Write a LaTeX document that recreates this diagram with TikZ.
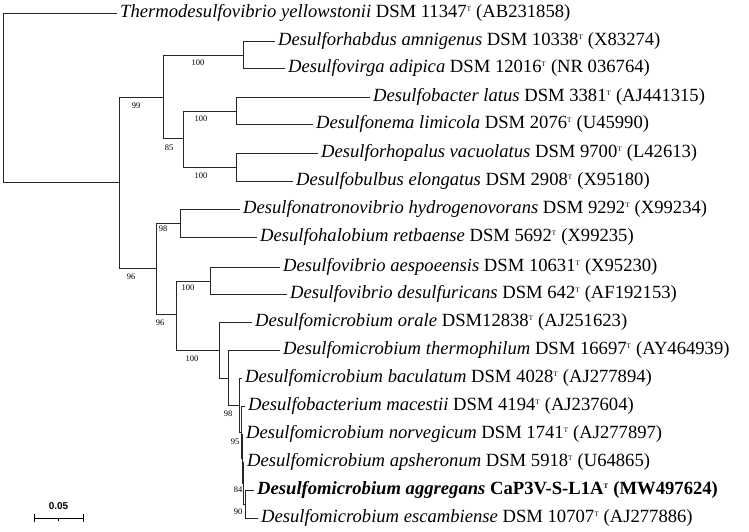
\documentclass[tikz,border=0pt]{standalone}
\usepackage{fontspec}
\setmainfont{Liberation Serif}
\newfontfamily\barfont{Liberation Sans}
\begin{document}
\begin{tikzpicture}[x=1bp,y=-1bp,
  br/.style={line width=0.8bp,draw=black!85},
  leaf/.style={anchor=west,inner sep=0pt,xshift=3bp,font=\fontsize{18.7}{20}\selectfont},
  bs/.style={font=\fontsize{8.5}{9}\selectfont,inner sep=0pt}]
\useasboundingbox (0,0) rectangle (749,532);
\newcommand{\lf}[4]{\coordinate (e#1) at (#2,#3); \node[leaf] (l#1) at (e#1) {#4};}
\newcommand{\tsup}{\textsuperscript{\scriptsize T}}
\lf{1}{117}{13}{\textit{Thermodesulfovibrio yellowstonii} DSM 11347\tsup{} (AB231858)}
\lf{2}{275}{41}{\textit{Desulforhabdus amnigenus} DSM 10338\tsup{} (X83274)}
\lf{3}{285}{68}{\textit{Desulfovirga adipica} DSM 12016\tsup{} (NR 036764)}
\lf{4}{370}{97}{\textit{Desulfobacter latus} DSM 3381\tsup{} (AJ441315)}
\lf{5}{313}{124}{\textit{Desulfonema limicola} DSM 2076\tsup{} (U45990)}
\lf{6}{318}{153}{\textit{Desulforhopalus vacuolatus} DSM 9700\tsup{} (L42613)}
\lf{7}{293}{181}{\textit{Desulfobulbus elongatus} DSM 2908\tsup{} (X95180)}
\lf{8}{240}{209}{\textit{Desulfonatronovibrio hydrogenovorans} DSM 9292\tsup{} (X99234)}
\lf{9}{257}{237}{\textit{Desulfohalobium retbaense} DSM 5692\tsup{} (X99235)}
\lf{10}{280}{267}{\textit{Desulfovibrio aespoeensis} DSM 10631\tsup{} (X95230)}
\lf{11}{287}{294}{\textit{Desulfovibrio desulfuricans} DSM 642\tsup{} (AF192153)}
\lf{12}{252}{322}{\textit{Desulfomicrobium orale} DSM12838\tsup{} (AJ251623)}
\lf{13}{280}{350}{\textit{Desulfomicrobium thermophilum} DSM 16697\tsup{} (AY464939)}
\lf{14}{242}{378}{\textit{Desulfomicrobium baculatum} DSM 4028\tsup{} (AJ277894)}
\lf{15}{245}{406}{\textit{Desulfobacterium macestii} DSM 4194\tsup{} (AJ237604)}
\lf{16}{243}{434}{\textit{Desulfomicrobium norvegicum} DSM 1741\tsup{} (AJ277897)}
\lf{17}{244}{462}{\textit{Desulfomicrobium apsheronum} DSM 5918\tsup{} (U64865)}
\lf{18}{254}{490}{\bfseries\textit{Desulfomicrobium aggregans} CaP3V-S-L1A\tsup{} (MW497624)}
\lf{19}{258}{518}{\textit{Desulfomicrobium escambiense} DSM 10707\tsup{} (AJ277886)}
% internal nodes
\coordinate (R) at (3,97);
\coordinate (A) at (119,182);
\coordinate (B) at (163,97);
\coordinate (Bh) at (243,55);
\coordinate (C) at (183,138);
\coordinate (C1) at (236,111);
\coordinate (C2) at (236,167);
\coordinate (D) at (156,268);
\coordinate (Dn) at (180,223);
\coordinate (E) at (176,314);
\coordinate (Ev) at (210,281);
\coordinate (F) at (219,350);
\coordinate (G) at (228,378);
\coordinate (H) at (239,405);
\coordinate (I) at (241,432);
\coordinate (K) at (242,458);
\coordinate (L) at (243,483);
\coordinate (M) at (245,504);
\draw[br] (R) |- (e1); \draw[br] (R) |- (A);
\draw[br] (A) |- (B); \draw[br] (A) |- (D);
\draw[br] (B) |- (Bh); \draw[br] (B) |- (C);
\draw[br] (Bh) |- (e2); \draw[br] (Bh) |- (e3);
\draw[br] (C) |- (C1); \draw[br] (C) |- (C2);
\draw[br] (C1) |- (e4); \draw[br] (C1) |- (e5);
\draw[br] (C2) |- (e6); \draw[br] (C2) |- (e7);
\draw[br] (D) |- (Dn); \draw[br] (D) |- (E);
\draw[br] (Dn) |- (e8); \draw[br] (Dn) |- (e9);
\draw[br] (E) |- (Ev); \draw[br] (E) |- (F);
\draw[br] (Ev) |- (e10); \draw[br] (Ev) |- (e11);
\draw[br] (F) |- (e12); \draw[br] (F) |- (G);
\draw[br] (G) |- (e13); \draw[br] (G) |- (H);
\draw[br] (H) |- (e14); \draw[br] (H) |- (I);
\draw[br] (I) |- (e15); \draw[br] (I) |- (K);
\draw[br] (K) |- (e16); \draw[br] (K) |- (L);
\draw[br] (L) |- (e17); \draw[br] (L) |- (M);
\draw[br] (M) |- (e18); \draw[br] (M) |- (e19);
% bootstrap
\node[bs] (b1) at (198,63) {100};
\node[bs] (b2) at (136,106) {99};
\node[bs] (b3) at (201,119) {100};
\node[bs] (b4) at (169,148) {85};
\node[bs] (b5) at (201,176) {100};
\node[bs] (b6) at (163,229) {98};
\node[bs] (b7) at (131,277) {96};
\node[bs] (b8) at (188,288) {100};
\node[bs] (b9) at (160,323) {96};
\node[bs] (b10) at (192,359) {100};
\node[bs] (b11) at (228,414) {98};
\node[bs] (b12) at (235,442) {95};
\node[bs] (b13) at (238,490) {84};
\node[bs] (b14) at (238,512) {90};
% scale bar
\coordinate (s1) at (34,518); \coordinate (s2) at (83,518); \coordinate (sm) at (58.5,518);
\draw[line width=0.8bp] (s1) -- (s2);
\draw[line width=0.8bp] (s1) ++(0,-4) -- ++(0,8);
\draw[line width=0.8bp] (s2) ++(0,-4) -- ++(0,8);
\draw[line width=0.6bp] (sm) -- ++(0,3);
\node[font=\barfont\bfseries\fontsize{10}{11}\selectfont,anchor=south] (sl) at (58.5,513) {0.05};
\end{tikzpicture}
\end{document}
